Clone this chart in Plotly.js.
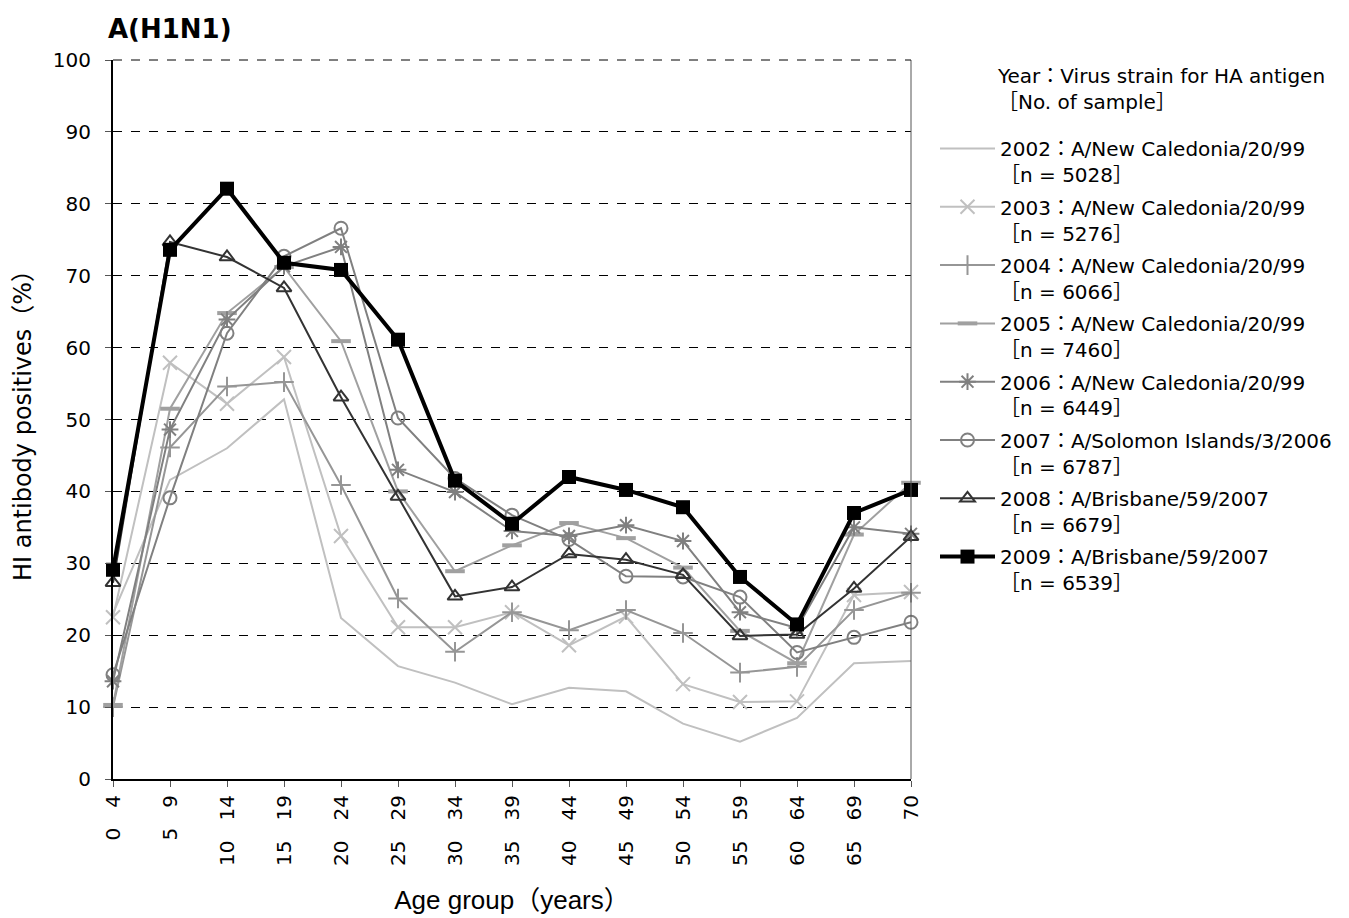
<!DOCTYPE html>
<html>
<head>
<meta charset="utf-8">
<script src="https://cdn.plot.ly/plotly-3.0.1.min.js"></script>
<style>html,body{margin:0;padding:0;background:#fff;}#chart{width:1349px;height:918px;}</style>
</head>
<body>
<div id="chart"></div>
<script>
// Age groups (x categories)
var ageGroups = ['0\u20034','5\u20039','10\u200314','15\u200319','20\u200324','25\u200329','30\u200334','35\u200339','40\u200344','45\u200349','50\u200354','55\u200359','60\u200364','65\u200369','70'];

// Series names (legend text)
var names = [
  '2002\uFF1AA/New Caledonia/20/99<br>\uFF3Bn = 5028\uFF3D',
  '2003\uFF1AA/New Caledonia/20/99<br>\uFF3Bn = 5276\uFF3D',
  '2004\uFF1AA/New Caledonia/20/99<br>\uFF3Bn = 6066\uFF3D',
  '2005\uFF1AA/New Caledonia/20/99<br>\uFF3Bn = 7460\uFF3D',
  '2006\uFF1AA/New Caledonia/20/99<br>\uFF3Bn = 6449\uFF3D',
  '2007\uFF1AA/Solomon Islands/3/2006<br>\uFF3Bn = 6787\uFF3D',
  '2008\uFF1AA/Brisbane/59/2007<br>\uFF3Bn = 6679\uFF3D',
  '2009\uFF1AA/Brisbane/59/2007<br>\uFF3Bn = 6539\uFF3D'
];

// HI antibody positive rates (%)
var y2002 = [23.0, 41.6, 46.0, 52.8, 22.4, 15.7, 13.4, 10.4, 12.7, 12.2, 7.7, 5.2, 8.5, 16.1, 16.4];
var y2003 = [22.5, 57.9, 52.2, 58.7, 33.8, 21.1, 21.1, 23.2, 18.6, 22.6, 13.2, 10.7, 10.8, 25.6, 26.0];
var y2004 = [10.0, 46.1, 54.6, 55.2, 40.9, 25.1, 17.7, 23.2, 20.7, 23.5, 20.3, 14.8, 15.6, 23.5, 25.9];
var y2005 = [10.3, 51.5, 64.8, 71.2, 60.9, 40.0, 28.9, 32.5, 35.6, 33.5, 29.4, 20.6, 16.1, 34.0, 41.2];
var y2006 = [13.6, 48.6, 63.9, 71.3, 74.0, 43.0, 39.9, 34.5, 33.8, 35.3, 33.1, 23.2, 21.0, 35.0, 34.1];
var y2007 = [14.5, 39.1, 62.0, 72.7, 76.6, 50.2, 41.8, 36.7, 33.3, 28.2, 28.1, 25.3, 17.6, 19.7, 21.8];
var y2008 = [27.3, 74.7, 72.6, 68.3, 53.1, 39.3, 25.4, 26.7, 31.3, 30.5, 28.4, 19.9, 20.1, 26.5, 33.7];
var y2009 = [29.1, 73.6, 82.1, 71.8, 70.8, 61.1, 41.5, 35.5, 42.0, 40.2, 37.8, 28.1, 21.5, 37.0, 40.2];

var FONT = 'DejaVu Sans, Noto Sans CJK JP, sans-serif';
var FONT2 = 'Liberation Sans, Arial, Noto Sans CJK JP, sans-serif';

var styles = [
  {y: y2002, color: '#c0c0c0', width: 2, mode: 'lines', symbol: 'circle', size: 1, mlw: 0},
  {y: y2003, color: '#c0c0c0', width: 2, mode: 'lines+markers', symbol: 'x-thin-open', size: 14, mlw: 2},
  {y: y2004, color: '#969696', width: 2, mode: 'lines+markers', symbol: 'cross-thin-open', size: 14, mlw: 2},
  {y: y2005, color: '#a0a0a0', width: 2, mode: 'lines+markers', symbol: 'line-ew-open', size: 14, mlw: 4},
  {y: y2006, color: '#808080', width: 2, mode: 'lines+markers', symbol: 'asterisk-open', size: 14, mlw: 2},
  {y: y2007, color: '#808080', width: 2, mode: 'lines+markers', symbol: 'circle-open', size: 13, mlw: 2},
  {y: y2008, color: '#333333', width: 2, mode: 'lines+markers', symbol: 'triangle-up-open', size: 13, mlw: 2},
  {y: y2009, color: '#000000', width: 4, mode: 'lines+markers', symbol: 'square', size: 14, mlw: 0}
];

var traces = styles.map(function(s, i) {
  return {
    type: 'scatter',
    x: ageGroups,
    y: s.y,
    name: names[i],
    mode: s.mode,
    cliponaxis: false,
    legendgroup: 'g' + i,
    line: {color: s.color, width: s.width},
    marker: {symbol: s.symbol, size: s.size, color: s.color, line: {color: s.color, width: s.mlw}}
  };
});

var layout = {
  width: 1349,
  height: 918,
  paper_bgcolor: '#ffffff',
  plot_bgcolor: '#ffffff',
  margin: {l: 113, r: 438, t: 60, b: 139, autoexpand: false},
  font: {family: FONT, size: 20, color: '#000'},
  showlegend: true,
  title: {
    text: '<b>A(H1N1)</b>',
    font: {family: FONT, size: 26, color: '#000'},
    x: 108 / 1349, xref: 'container', xanchor: 'left',
    y: 1 - 29 / 918, yref: 'container', yanchor: 'middle'
  },
  xaxis: {
    type: 'category',
    categoryorder: 'array',
    categoryarray: ageGroups,
    range: [0, 14],
    showgrid: false,
    zeroline: false,
    showline: true,
    linecolor: '#000',
    linewidth: 2,
    ticks: 'outside',
    ticklen: 6,
    tickcolor: '#555',
    tickwidth: 1,
    tickangle: -90,
    tickfont: {family: FONT, size: 20, color: '#000'},
    automargin: false,
    title: {text: 'Age group\uFF08years\uFF09', font: {family: FONT2, size: 26, color: '#000'}, standoff: 26}
  },
  yaxis: {
    range: [0, 100],
    dtick: 10,
    tick0: 0,
    showgrid: true,
    gridcolor: '#000',
    gridwidth: 1,
    griddash: 'dash',
    zeroline: false,
    showline: true,
    linecolor: '#000',
    linewidth: 2,
    ticks: 'outside',
    ticklen: 6,
    tickcolor: '#555',
    tickfont: {family: FONT, size: 20, color: '#000'},
    ticklabelstandoff: 10,
    automargin: false,
    title: {text: 'HI antibody positives\uFF08%\uFF09', font: {family: FONT, size: 24, color: '#000'}, standoff: 14}
  },
  legend: {
    xref: 'container', yref: 'container',
    x: 935 / 1349, xanchor: 'left',
    y: 1 - 129 / 918, yanchor: 'top',
    bgcolor: 'rgba(0,0,0,0)',
    font: {family: FONT, size: 20, color: '#000'},
    valign: 'top',
    itemwidth: 55,
    tracegroupgap: 3.3,
    traceorder: 'grouped',
    maxheight: 800
  },
  shapes: [
    {type: 'line', xref: 'paper', yref: 'paper', x0: 1, x1: 1, y0: 0, y1: 1, line: {color: '#555', width: 1}},
    {type: 'line', xref: 'paper', yref: 'paper', x0: 0, x1: 1, y0: 1, y1: 1, line: {color: '#000', width: 1, dash: 'dash'}}
  ],
  annotations: [
    {
      text: 'Year\uFF1AVirus strain for HA antigen<br>\uFF3BNo. of sample\uFF3D',
      xref: 'paper', yref: 'paper',
      x: (995 - 113) / 798, y: 1 - (62 - 60) / 719,
      xanchor: 'left', yanchor: 'top', align: 'left',
      showarrow: false,
      font: {family: FONT, size: 20, color: '#000'}
    }
  ]
};

Plotly.newPlot('chart', traces, layout, {displayModeBar: false, staticPlot: true});
</script>
</body>
</html>
